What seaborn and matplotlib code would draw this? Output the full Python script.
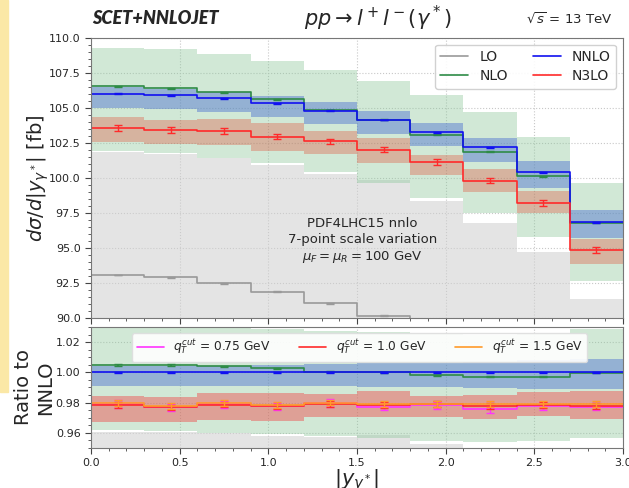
import numpy as np
import pandas as pd
import seaborn as sns
import matplotlib
matplotlib.use('Agg')
import matplotlib.pyplot as plt
from matplotlib.ticker import MultipleLocator
from matplotlib.patches import Rectangle

# bins in |y_gamma*|
bin_edges = [0.0, 0.3, 0.6, 0.9, 1.2, 1.5, 1.8, 2.1, 2.4, 2.7, 3.0]

# d sigma / d|y| [fb], central values and 7-point scale bands
lo = [93.07, 92.90, 92.48, 91.88, 91.05, 90.16, 89.00, 87.50, 85.70, 83.20]
lo_up = [101.85, 101.70, 101.40, 100.90, 100.30, 99.85, 98.36, 96.76, 94.74, 91.33]
lo_dn = [84.0, 83.8, 83.4, 82.8, 82.0, 81.2, 80.0, 78.4, 76.4, 73.6]

nlo = [106.52, 106.40, 106.10, 105.60, 104.84, 104.14, 103.07, 101.88, 100.10, 96.80]
nlo_up = [109.30, 109.19, 108.86, 108.36, 107.67, 106.93, 105.88, 104.69, 102.95, 99.62]
nlo_dn = [101.93, 101.76, 101.45, 101.05, 100.40, 99.62, 98.55, 97.48, 95.81, 92.64]

nnlo = [106.00, 105.88, 105.67, 105.33, 104.80, 104.13, 103.26, 102.18, 100.39, 96.83]
nnlo_up = [106.45, 106.35, 106.15, 105.85, 105.40, 104.80, 103.92, 102.85, 101.20, 97.71]
nnlo_dn = [105.02, 104.92, 104.70, 104.36, 103.83, 103.14, 102.24, 101.12, 99.26, 95.74]

n3lo = [103.55, 103.43, 103.36, 102.95, 102.60, 102.00, 101.14, 99.81, 98.21, 94.84]
n3lo_up = [104.31, 104.14, 104.21, 103.90, 103.31, 102.83, 101.64, 100.64, 99.07, 95.62]
n3lo_dn = [102.55, 102.40, 102.36, 101.93, 101.69, 101.09, 100.20, 99.02, 97.48, 93.86]
n3lo_err = [0.21, 0.21, 0.20, 0.20, 0.18, 0.18, 0.19, 0.21, 0.19, 0.20]
fo_err = [0.03, 0.03, 0.03, 0.03, 0.03, 0.03, 0.03, 0.03, 0.03, 0.03]

# N3LO / NNLO for different qT cuts
r_q075 = [0.9789, 0.9769, 0.9789, 0.9776, 0.9798, 0.9773, 0.9782, 0.9756, 0.9778, 0.9773]
r_q10 = [0.9782, 0.9769, 0.9787, 0.9776, 0.9791, 0.9784, 0.9789, 0.9778, 0.9782, 0.9778]
r_q15 = [0.9796, 0.9778, 0.9796, 0.9783, 0.9800, 0.9791, 0.9793, 0.9789, 0.9791, 0.9791]
r_err_q075 = [0.0026, 0.0022, 0.0024, 0.0022, 0.0024, 0.0024, 0.0025, 0.0024, 0.0025, 0.0024]
r_err_q10 = [0.0020, 0.0018, 0.0019, 0.0018, 0.0018, 0.0018, 0.0019, 0.0020, 0.0019, 0.0020]
r_err_q15 = [0.0020, 0.0018, 0.0019, 0.0018, 0.0018, 0.0018, 0.0019, 0.0020, 0.0019, 0.0020]

edges = np.array(bin_edges)
centers = 0.5 * (edges[:-1] + edges[1:])
ref = np.array(nnlo)

sns.set_style("whitegrid", {"grid.linestyle": ":", "grid.color": "#c8c8c8",
                            "axes.edgecolor": "#666666"})
plt.rcParams['font.family'] = ['DejaVu Sans']

c_lo, c_nlo, c_nnlo, c_n3lo = '#999999', '#2e8b47', '#1010f0', '#ff2a2a'

fig = plt.figure(figsize=(6.29, 4.88), dpi=100)
# pale strip at the left border of the original screenshot
fig.patches.append(Rectangle((0, 0.197), 0.0125, 0.803, transform=fig.transFigure,
                             color='#fbe8a6', zorder=0))
ax1 = fig.add_axes([0.1447, 0.3484, 0.8458, 0.5743])
ax2 = fig.add_axes([0.1447, 0.0820, 0.8458, 0.2479])


def step_line(ax, vals, color, label=None):
    y = np.append(vals, vals[-1])
    sns.lineplot(x=edges, y=y, drawstyle='steps-post', color=color, lw=1.2,
                 label=label, ax=ax, legend=False)


# ---- main panel
ax1.stairs(lo_up, edges, baseline=lo_dn, fill=True, color='#cfcfcf', alpha=0.55, lw=0)
ax1.stairs(nlo_up, edges, baseline=nlo_dn, fill=True, color='#8cc79a', alpha=0.4, lw=0)
ax1.stairs(nnlo_up, edges, baseline=nnlo_dn, fill=True, color='#4a6fd0', alpha=0.45, lw=0)
ax1.stairs(n3lo_up, edges, baseline=n3lo_dn, fill=True, color='#e0503a', alpha=0.35, lw=0)

series = [('LO', lo, c_lo, fo_err), ('NLO', nlo, c_nlo, fo_err),
          ('NNLO', nnlo, c_nnlo, fo_err), ('N3LO', n3lo, c_n3lo, n3lo_err)]
for name, vals, col, err in series:
    step_line(ax1, vals, col, name)
    ax1.errorbar(centers, vals, yerr=err, fmt='none', ecolor=col, capsize=3, elinewidth=1)

ax1.set_xlim(0, 3.0)
ax1.set_ylim(90, 110)
ax1.yaxis.set_major_locator(MultipleLocator(2.5))
ax1.yaxis.set_minor_locator(MultipleLocator(0.5))
ax1.xaxis.set_major_locator(MultipleLocator(0.5))
ax1.xaxis.set_minor_locator(MultipleLocator(0.1))
ax1.tick_params(axis='x', labelbottom=False)
ax1.set_ylabel(r'$d\sigma/d|y_{\gamma^*}|$ [fb]', fontsize=14)
ax1.yaxis.set_label_coords(-0.076, 0.5)

h, l = ax1.get_legend_handles_labels()
ax1.legend(h, l, ncol=2, loc='upper right', fontsize=10, frameon=True,
           framealpha=0.9, edgecolor='#cccccc', handlelength=2.0, columnspacing=1.8,
           borderpad=0.4, labelspacing=0.35)

ax1.text(0.51, 0.275, 'PDF4LHC15 nnlo\n7-point scale variation\n'
         r'$\mu_F = \mu_R = 100$ GeV', transform=ax1.transAxes, ha='center',
         va='center', fontsize=9.5, linespacing=1.3)

# ---- ratio panel
ax2.stairs(np.array(lo_up) / ref, edges, baseline=np.array(lo_dn) / ref, fill=True,
           color='#cfcfcf', alpha=0.55, lw=0)
ax2.stairs(np.array(nlo_up) / ref, edges, baseline=np.array(nlo_dn) / ref, fill=True,
           color='#8cc79a', alpha=0.4, lw=0)
ax2.stairs(np.array(nnlo_up) / ref, edges, baseline=np.array(nnlo_dn) / ref, fill=True,
           color='#4a6fd0', alpha=0.45, lw=0)
ax2.stairs(np.array(n3lo_up) / ref, edges, baseline=np.array(n3lo_dn) / ref, fill=True,
           color='#f04a4a', alpha=0.45, lw=0)

step_line(ax2, np.array(nlo) / ref, c_nlo)
ax2.errorbar(centers, np.array(nlo) / ref, yerr=0.0004, fmt='none', ecolor=c_nlo, capsize=3)
step_line(ax2, ref / ref, c_nnlo)
ax2.errorbar(centers, ref / ref, yerr=0.0004, fmt='none', ecolor=c_nnlo, capsize=3)

ratio_series = [(r'$q_T^{cut}$ = 0.75 GeV', r_q075, r_err_q075, '#ff33ff'),
                (r'$q_T^{cut}$ = 1.0 GeV', r_q10, r_err_q10, '#ff2a2a'),
                (r'$q_T^{cut}$ = 1.5 GeV', r_q15, r_err_q15, '#ff9a2a')]
for name, vals, err, col in ratio_series:
    step_line(ax2, vals, col, name)
    ax2.errorbar(centers, vals, yerr=err, fmt='none', ecolor=col, capsize=3, elinewidth=1)

ax2.set_xlim(0, 3.0)
ax2.set_ylim(0.95, 1.03)
ax2.yaxis.set_major_locator(MultipleLocator(0.02))
ax2.yaxis.set_minor_locator(MultipleLocator(0.005))
ax2.xaxis.set_major_locator(MultipleLocator(0.5))
ax2.xaxis.set_minor_locator(MultipleLocator(0.1))
ax2.set_ylabel('Ratio to\nNNLO', fontsize=14)
ax2.yaxis.set_label_coords(-0.068, 0.5)
ax2.set_xlabel(r'$|y_{\gamma^*}|$', fontsize=15, labelpad=-1)

h2, l2 = ax2.get_legend_handles_labels()
ax2.legend(h2, l2, ncol=3, loc='upper center', fontsize=8.8, frameon=True,
           framealpha=0.9, edgecolor='#dddddd', handlelength=2.2, columnspacing=2.3,
           borderpad=0.4, bbox_to_anchor=(0.505, 1.0))

for ax in (ax1, ax2):
    ax.tick_params(which='both', bottom=True, left=True, direction='out',
                   labelsize=8, color='#444444')
    ax.tick_params(which='major', length=4)
    ax.tick_params(which='minor', length=2)
    ax.grid(True, which='major', linestyle=':', color='#c8c8c8')
    ax.grid(False, which='minor')
    for s in ax.spines.values():
        s.set_color('#777777')

# header
fig.text(0.147, 0.962, 'SCET+NNLOJET', fontsize=13, fontweight='heavy',
         fontstyle='italic', ha='left', va='center', family=['Lato', 'DejaVu Sans'])
fig.text(0.60, 0.962, r'$pp \rightarrow l^+l^-(\gamma^*)$', fontsize=15,
         ha='center', va='center')
fig.text(0.973, 0.960, r'$\sqrt{s}$ = 13 TeV', fontsize=9.5, ha='right', va='center')

fig.savefig('out.png', dpi=100)
